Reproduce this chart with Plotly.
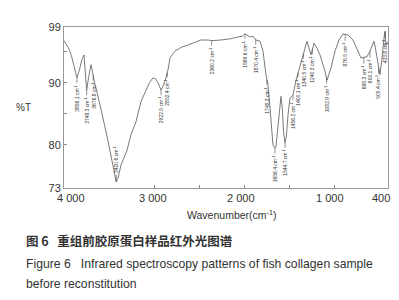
import numpy as np
import plotly.graph_objects as go

wavenumber = [4000, 3990, 3950, 3920, 3885, 3856, 3830, 3800, 3778, 3765, 3748, 3725, 3700, 3680, 3667,
              3630, 3589, 3550, 3511, 3470, 3433, 3420, 3400, 3367, 3300, 3256, 3200, 3144, 3100, 3050,
              3011, 2980, 2956, 2922, 2900, 2878, 2844, 2822, 2767, 2700, 2622, 2550, 2478, 2400, 2360,
              2256, 2150, 2067, 2020, 1989, 1960, 1933, 1900, 1867, 1822, 1789, 1756, 1733, 1711, 1690,
              1678, 1665, 1656, 1645, 1630, 1610, 1589, 1575, 1560, 1544, 1530, 1511, 1489, 1470, 1456,
              1422, 1400, 1378, 1344, 1300, 1256, 1222, 1190, 1156, 1120, 1100, 1078, 1055, 1033, 1010,
              989, 944, 900, 870, 844, 789, 756, 730, 700, 668, 633, 600, 556, 540, 522, 505, 489, 470,
              456, 440, 433, 422, 410, 400]
transmittance = [96.8, 96.6, 95.6, 94.5, 92.5, 90.8, 92.0, 93.8, 94.5, 92.0, 88.8, 91.0, 92.9, 91.5, 90.4,
                 88.3, 85.9, 83.2, 80.6, 77.8, 75.1, 74.0, 74.6, 76.7, 79.1, 81.6, 83.7, 87.0, 88.4, 90.0,
                 90.8, 90.6, 90.0, 88.8, 89.4, 90.3, 92.1, 94.0, 95.1, 95.7, 96.1, 96.5, 96.9, 96.9, 96.8,
                 96.9, 97.1, 97.4, 97.5, 97.9, 97.6, 97.4, 97.5, 96.9, 96.7, 95.1, 91.3, 89.6, 85.9, 82.0,
                 80.0, 79.6, 79.4, 79.6, 82.0, 85.5, 87.8, 86.0, 82.0, 80.3, 81.2, 84.8, 87.5, 87.8, 88.0,
                 90.4, 91.6, 92.4, 94.5, 96.7, 94.5, 96.4, 95.6, 94.5, 92.8, 91.9, 90.4, 91.3, 92.4, 93.8,
                 95.1, 96.9, 97.9, 97.8, 97.7, 96.9, 95.9, 95.0, 94.0, 94.1, 94.2, 95.1, 96.7, 95.6, 94.0,
                 92.5, 91.3, 93.5, 96.1, 97.8, 98.3, 96.1, 96.5, 96.2]

label_wn = [3856, 3748, 3676, 3420, 2922, 2852, 2360, 1989, 1870, 1745, 1656, 1544, 1456, 1400, 1340,
            1240, 1082, 876, 668, 600, 505, 433]
label_text = ["3856.1", "3748.3", "3676.8", "3420.6", "2922.5", "2852.4", "2360.2", "1989.6", "1870.4",
              "1745.3", "1656.4", "1544.7", "1456.2", "1400.1", "1340.5", "1240.3", "1082.9", "876.5",
              "668.3", "600.1", "505.4", "433.8"]
label_above = [False, False, False, True, False, False, False, False, False, False, False, False, False,
               False, False, False, False, False, False, False, False, False]

x_ticks = [4000, 3000, 2000, 1000, 400]
x_tick_text = ["4 000", "3 000", "2 000", "1 000", "400"]
x_tick_shift = [7, -1, -3, -4, -7]
y_ticks = [73, 80, 90, 99]

fig = go.Figure()
fig.add_trace(go.Scatter(x=wavenumber, y=transmittance, mode="lines",
                         line=dict(color="#6a6a6a", width=0.9), hoverinfo="skip"))

wn_sorted = np.array(wavenumber[::-1], dtype=float)
tr_sorted = np.array(transmittance[::-1], dtype=float)
for wn, txt, above in zip(label_wn, label_text, label_above):
    yv = float(np.interp(wn, wn_sorted, tr_sorted))
    fig.add_annotation(x=wn, y=yv, text=txt + " cm<sup>-1</sup>", textangle=-90,
                       showarrow=True, arrowhead=0, arrowwidth=0.6, arrowcolor="#444",
                       ax=0, ay=(-22 if above else 20), standoff=0,
                       font=dict(size=5, color="#333", family="Liberation Sans"))

for xv, txt, sh in zip(x_ticks, x_tick_text, x_tick_shift):
    fig.add_annotation(x=xv, xref="x", y=0, yref="paper", yanchor="top", yshift=-2, xshift=sh,
                       text=txt, showarrow=False,
                       font=dict(size=11, color="#333", family="Liberation Sans"))

fig.update_xaxes(range=[4000, 400], tickvals=x_ticks, showticklabels=False,
                 ticks="inside", ticklen=3, tickcolor="#888", showgrid=False, zeroline=False,
                 showline=True, linecolor="#999", linewidth=1, mirror=True,
                 minor=dict(tickvals=[2500, 1500], ticks="inside", ticklen=3, tickcolor="#888"))
fig.update_yaxes(range=[73, 99], tickvals=y_ticks, ticks="inside", ticklen=3, tickcolor="#888",
                 showgrid=False, zeroline=False, showline=True, linecolor="#999", linewidth=1,
                 mirror=True,
                 minor=dict(tickvals=[85, 95], ticks="inside", ticklen=3, tickcolor="#888"),
                 tickfont=dict(size=11, color="#333", family="Liberation Sans"))

fig.add_annotation(xref="paper", yref="paper", x=-0.095, y=0.5, text="%T", showarrow=False,
                   xanchor="right", font=dict(size=10, color="#333", family="Liberation Sans"))
fig.add_annotation(xref="paper", yref="paper", x=0.52, y=-0.22, text="Wavenumber(cm<sup>-1</sup>)",
                   showarrow=False, font=dict(size=10.5, color="#333", family="Liberation Sans"))
fig.add_annotation(xref="paper", yref="paper", x=-0.125, y=-0.40, xanchor="left",
                   text="<b>图 6   重组前胶原蛋白样品红外光图谱</b>", showarrow=False,
                   font=dict(size=12.5, color="#333", family="Noto Sans CJK SC"))
fig.add_annotation(xref="paper", yref="paper", x=-0.125, y=-0.525, xanchor="left",
                   text="Figure 6   Infrared spectroscopy patterns of fish collagen sample",
                   showarrow=False, font=dict(size=12.2, color="#333", family="Liberation Sans"))
fig.add_annotation(xref="paper", yref="paper", x=-0.125, y=-0.65, xanchor="left",
                   text="before reconstitution",
                   showarrow=False, font=dict(size=12.2, color="#333", family="Liberation Sans"))

fig.update_layout(width=399, height=300, margin=dict(l=56, r=19, t=19, b=120),
                  paper_bgcolor="white", plot_bgcolor="white", showlegend=False)

fig.write_html("out.html")
